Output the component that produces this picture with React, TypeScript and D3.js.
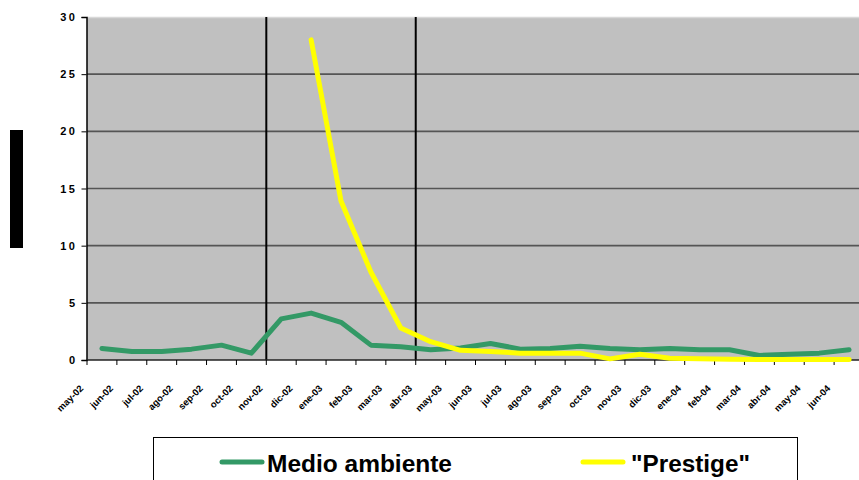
import React, { useEffect, useRef } from 'react'
import * as d3 from 'd3'

const WIDTH = 859
const HEIGHT = 480
const PLOT_LEFT = 87
const PLOT_RIGHT = 864
const PLOT_TOP = 17
const PLOT_BOTTOM = 360
const FONT = "Arial, 'Liberation Sans', sans-serif"

const months = [
  'may-02', 'jun-02', 'jul-02', 'ago-02', 'sep-02', 'oct-02', 'nov-02', 'dic-02', 'ene-03',
  'feb-03', 'mar-03', 'abr-03', 'may-03', 'jun-03', 'jul-03', 'ago-03', 'sep-03', 'oct-03',
  'nov-03', 'dic-03', 'ene-04', 'feb-04', 'mar-04', 'abr-04', 'may-04', 'jun-04',
]

const medioAmbiente = [
  1.0, 0.75, 0.75, 0.95, 1.3, 0.6, 3.6, 4.1, 3.3, 1.3, 1.15, 0.9, 1.05,
  1.45, 0.95, 1.0, 1.2, 1.0, 0.9, 1.0, 0.9, 0.9, 0.4, 0.5, 0.6, 0.9,
]

const prestige: (number | null)[] = [
  null, null, null, null, null, null, null, 28.0, 13.9, 7.7, 2.8, 1.6, 0.85,
  0.75, 0.6, 0.6, 0.6, 0.1, 0.5, 0.15, 0.12, 0.07, 0.05, 0.05, 0.05, 0.05,
]

const yTicks = [0, 5, 10, 15, 20, 25, 30]

// months where a new period starts (vertical separators)
const markers = ['nov-02', 'abr-03']

const series = [
  { name: 'Medio ambiente', values: medioAmbiente, colour: '#339966' },
  { name: '"Prestige"', values: prestige, colour: '#FFFF00' },
]

export default function App() {
  const ref = useRef<SVGSVGElement>(null)

  useEffect(() => {
    const svg = d3.select(ref.current)
    svg.selectAll('*').remove()

    const xScale = d3.scaleBand<string>()
      .domain(months)
      .range([PLOT_LEFT, PLOT_RIGHT])
    const bw = xScale.bandwidth()
    const cx = (m: string) => (xScale(m) as number) + bw / 2

    const yScale = d3.scaleLinear()
      .domain([0, 30])
      .range([PLOT_BOTTOM, PLOT_TOP])

    // plot background
    svg.append('rect')
      .attr('x', PLOT_LEFT)
      .attr('y', PLOT_TOP)
      .attr('width', PLOT_RIGHT - PLOT_LEFT)
      .attr('height', PLOT_BOTTOM - PLOT_TOP)
      .attr('fill', '#C0C0C0')

    svg.append('line')
      .attr('x1', PLOT_LEFT).attr('x2', PLOT_RIGHT)
      .attr('y1', PLOT_TOP + 0.5).attr('y2', PLOT_TOP + 0.5)
      .attr('stroke', '#d8d8d8')
      .attr('stroke-width', 1.5)

    // gridlines
    svg.append('g')
      .selectAll('line')
      .data(yTicks.filter(t => t > 0 && t < 30))
      .join('line')
        .attr('x1', PLOT_LEFT).attr('x2', PLOT_RIGHT)
        .attr('y1', d => yScale(d)).attr('y2', d => yScale(d))
        .attr('stroke', '#555')
        .attr('stroke-width', 1.6)

    // period separators
    svg.append('g')
      .selectAll('line')
      .data(markers)
      .join('line')
        .attr('x1', d => xScale(d) as number).attr('x2', d => xScale(d) as number)
        .attr('y1', PLOT_TOP).attr('y2', PLOT_BOTTOM)
        .attr('stroke', '#000')
        .attr('stroke-width', 2)

    // y axis
    const yAxis = svg.append('g')
      .attr('transform', `translate(${PLOT_LEFT - 0.5}, 0)`)
      .call(d3.axisLeft(yScale).tickValues(yTicks).tickSize(5).tickPadding(4))
    yAxis.select('.domain').attr('stroke', '#000').attr('stroke-width', 1.5)
    yAxis.selectAll('.tick line').attr('stroke', '#000')
    yAxis.selectAll('.tick text')
      .attr('font-family', FONT)
      .attr('font-size', 11)
      .attr('font-weight', 'bold')
      .attr('letter-spacing', 2.5)
      .attr('fill', '#000')

    // x axis: ticks at the band edges
    const xAxis = svg.append('g')
      .attr('transform', `translate(0, ${PLOT_BOTTOM})`)
    xAxis.append('line')
      .attr('x1', PLOT_LEFT - 0.5).attr('x2', PLOT_RIGHT)
      .attr('stroke', '#222')
      .attr('stroke-width', 1.6)
    xAxis.selectAll('line.tick')
      .data(months)
      .join('line')
        .attr('class', 'tick')
        .attr('x1', d => xScale(d) as number).attr('x2', d => xScale(d) as number)
        .attr('y1', 0).attr('y2', 5)
        .attr('stroke', '#000')
    xAxis.selectAll('text')
      .data(months)
      .join('text')
        .attr('transform', d => `translate(${cx(d) - 18}, 29) rotate(-45)`)
        .attr('text-anchor', 'end')
        .attr('font-family', FONT)
        .attr('font-size', 9.5)
        .attr('font-weight', 900)
        .attr('fill', '#000')
        .text(d => d)

    // series lines
    series.forEach(s => {
      const line = d3.line<number | null>()
        .defined(v => v !== null)
        .x((_, i) => cx(months[i]))
        .y(v => yScale(v as number))
      svg.append('path')
        .datum(s.values)
        .attr('d', line)
        .attr('fill', 'none')
        .attr('stroke', s.colour)
        .attr('stroke-width', 5)
        .attr('stroke-linejoin', 'round')
        .attr('stroke-linecap', 'round')
    })

    // y-axis title block
    svg.append('rect')
      .attr('x', 10).attr('y', 130)
      .attr('width', 13).attr('height', 118)
      .attr('fill', '#000')

    // legend
    const legend = svg.append('g')
    legend.append('rect')
      .attr('x', 153.5).attr('y', 437.5)
      .attr('width', 644).attr('height', 60)
      .attr('fill', '#fff')
      .attr('stroke', '#000')
    const legendItems = [
      { ...series[0], lx: 222, tx: 267, tw: 185 },
      { ...series[1], lx: 583, tx: 631, tw: 119 },
    ]
    legendItems.forEach(item => {
      legend.append('line')
        .attr('x1', item.lx).attr('x2', item.lx + 40)
        .attr('y1', 462).attr('y2', 462)
        .attr('stroke', item.colour)
        .attr('stroke-width', 5)
        .attr('stroke-linecap', 'round')
      legend.append('text')
        .attr('x', item.tx).attr('y', 472)
        .attr('font-family', FONT)
        .attr('font-size', 23)
        .attr('font-weight', 'bold')
        .attr('textLength', item.tw)
        .attr('lengthAdjust', 'spacingAndGlyphs')
        .attr('fill', '#000')
        .text(item.name)
    })
  }, [])

  return (
    <div style={{ position: 'absolute', left: 0, top: 0 }}>
      <svg ref={ref} width={WIDTH} height={HEIGHT} style={{ display: 'block', background: '#fff' }} />
    </div>
  )
}
